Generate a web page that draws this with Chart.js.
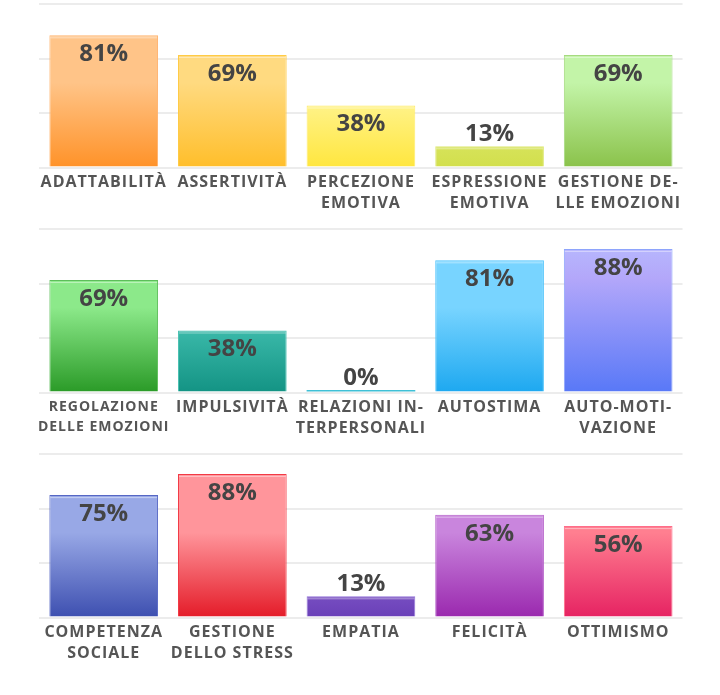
<!DOCTYPE html>
<html>
<head>
<meta charset="utf-8">
<script src="https://cdn.jsdelivr.net/npm/chart.js@4.4.0/dist/chart.umd.min.js"></script>
<style>
  body { margin: 0; background: #fff; width: 720px; }
  canvas { display: block; }
</style>
</head>
<body>
<canvas id="row1" width="720" height="225"></canvas>
<canvas id="row2" width="720" height="225"></canvas>
<canvas id="row3" width="720" height="245"></canvas>
<script>
// data
var labelsRow1 = ['ADATTABILITÀ', 'ASSERTIVITÀ', ['PERCEZIONE', 'EMOTIVA'], ['ESPRESSIONE', 'EMOTIVA'], ['GESTIONE DE-', 'LLE EMOZIONI']];
var valuesRow1 = [81, 69, 38, 13, 69];

var labelsRow2 = [['REGOLAZIONE', 'DELLE EMOZIONI'], 'IMPULSIVITÀ', ['RELAZIONI IN-', 'TERPERSONALI'], 'AUTOSTIMA', ['AUTO-MOTI-', 'VAZIONE']];
var valuesRow2 = [69, 38, 0, 81, 88];

var labelsRow3 = [['COMPETENZA', 'SOCIALE'], ['GESTIONE', 'DELLO STRESS'], 'EMPATIA', 'FELICITÀ', 'OTTIMISMO'];
var valuesRow3 = [75, 88, 13, 63, 56];

var yMin = 0;
var yMax = 100;

// colours: [top, bottom], border
var gradRow1 = [['#FFC488', '#FF9228'], ['#FFDA80', '#FFBE2A'], ['#FFF7A2', '#FFE63E'], ['#E2EE82', '#D2DF4C'], ['#C3F4A8', '#8AC24A']];
var borderRow1 = ['#FFB36E', '#FFCB45', '#FFEB66', '#DDE878', '#A6DA80'];
var gradRow2 = [['#8CE98A', '#2A9A27'], ['#48C6B6', '#139384'], ['#3FC0D6', '#3FC0D6'], ['#78D4FF', '#1DA8F0'], ['#B9C0FF', '#5878F7']];
var borderRow2 = ['#5DBE5A', '#4CC2B3', '#3FC0D6', '#4EC3FB', '#8EA4FC'];
var gradRow3 = [['#98A8E6', '#3D4FB0'], ['#FF959B', '#E41B28'], ['#9A74DA', '#6A40B8'], ['#C985DD', '#9A28AE'], ['#FF7F90', '#E62262']];
var borderRow3 = ['#5667C4', '#F23A45', '#9272D8', '#B35CC8', '#FF6D8A'];

// tick labels in the picture are slightly tracked
var letterSpace = {
  id: 'letterSpace',
  beforeDraw: function(chart) {
    chart.ctx.letterSpacing = '1px';
  }
};

var valueLabels = {
  id: 'valueLabels',
  afterDatasetsDraw: function(chart) {
    var c = chart.ctx;
    var meta = chart.getDatasetMeta(0);
    var data = chart.data.datasets[0].data;
    c.save();
    c.letterSpacing = '0px';
    c.font = 'bold 24px "Open Sans"';
    c.fillStyle = '#444444';
    c.textAlign = 'center';
    c.textBaseline = 'alphabetic';
    meta.data.forEach(function(bar, i) {
      var h = bar.base - bar.y;
      if (h > 4) {
        // light line under the top edge
        c.fillStyle = 'rgba(255,255,255,0.45)';
        c.fillRect(bar.x - bar.width / 2 + 1, bar.y + 2, bar.width - 2, 1);
        c.fillStyle = '#444444';
      }
      var y = h > 40 ? bar.y + 26 : bar.y - 5;
      c.fillText(data[i] + '%', bar.x, y);
    });
    c.restore();
  }
};

function makeRow(id, labels, values, grads, borders, firstSmall) {
  var canvas = document.getElementById(id);
  var xHeight = canvas.height - 167.5;

  return new Chart(canvas.getContext('2d'), {
    type: 'bar',
    data: {
      labels: labels,
      datasets: [{
        data: values,
        backgroundColor: function(ctx) {
          var area = ctx.chart.chartArea;
          if (!area) return grads[ctx.dataIndex][1];
          var g = ctx.chart.ctx.createLinearGradient(0, area.top, 0, area.bottom);
          var col = grads[ctx.dataIndex];
          if (id === 'row2' && ctx.dataIndex === 4) {
            g.addColorStop(0, col[0]);
            g.addColorStop(0.3, '#B3A7FA');
            g.addColorStop(1, col[1]);
          } else {
            g.addColorStop(0, col[0]);
            g.addColorStop(0.48, col[0]);
            g.addColorStop(1, col[1]);
          }
          return g;
        },
        borderColor: borders,
        borderWidth: function(ctx) { return ctx.raw === 0 ? 0 : 1; },
        borderSkipped: 'bottom',
        minBarLength: 2.5,
        barPercentage: 0.845,
        categoryPercentage: 1
      }]
    },
    options: {
      responsive: false,
      animation: false,
      devicePixelRatio: 1,
      layout: { padding: { left: 39.4, right: 37.5, top: 4.3, bottom: 0 } },
      plugins: { legend: { display: false }, tooltip: { enabled: false } },
      scales: {
        x: {
          grid: { display: false, drawTicks: false },
          border: { display: false },
          afterFit: function(scale) { scale.height = xHeight; },
          ticks: {
            color: '#555555',
            padding: 5,
            maxRotation: 0,
            minRotation: 0,
            autoSkip: false,
            font: function(ctx) {
              var small = firstSmall && ctx.index === 0;
              return { family: '"Open Sans"', weight: 'bold', size: small ? 14 : 16, lineHeight: small ? 20 / 14 : 20.5 / 16 };
            }
          }
        },
        y: {
          min: yMin,
          max: yMax,
          afterFit: function(scale) { scale.width = 0; },
          border: { display: false },
          grid: { color: '#ececec', lineWidth: 2, drawTicks: false },
          ticks: { display: false, stepSize: (yMax - yMin) / 3 }
        }
      }
    },
    plugins: [letterSpace, valueLabels]
  });
}

function drawAll() {
  makeRow('row1', labelsRow1, valuesRow1, gradRow1, borderRow1, false);
  makeRow('row2', labelsRow2, valuesRow2, gradRow2, borderRow2, true);
  makeRow('row3', labelsRow3, valuesRow3, gradRow3, borderRow3, false);
}

if (document.fonts && document.fonts.load) {
  document.fonts.load('bold 16px "Open Sans"').then(drawAll, drawAll);
} else {
  drawAll();
}
</script>
</body>
</html>
